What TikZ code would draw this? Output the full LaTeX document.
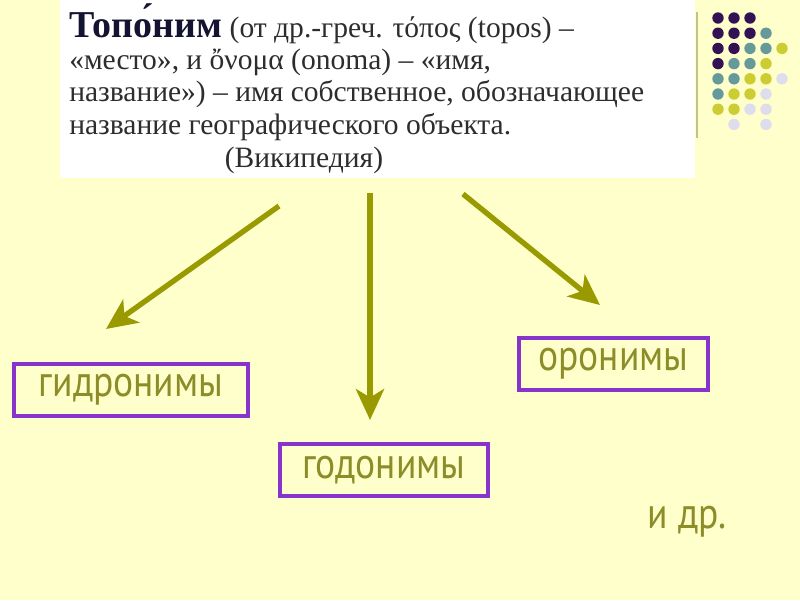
\documentclass[tikz,border=0pt]{standalone}
\usepackage{fontspec}
\setmainfont{Liberation Serif}
\setsansfont{PT Sans}
\newfontfamily\kindfont[FakeStretch=0.86]{PT Sans}
\usetikzlibrary{arrows.meta,positioning}
\definecolor{bgyellow}{RGB}{255,255,204}
\definecolor{olivearrow}{RGB}{153,153,0}
\definecolor{olivetext}{RGB}{140,140,40}
\definecolor{boxpurple}{RGB}{136,51,204}
\definecolor{titleblue}{RGB}{20,20,50}
\definecolor{bodygray}{RGB}{45,45,45}
\definecolor{dotpurple}{RGB}{51,17,85}
\definecolor{dotteal}{RGB}{102,153,153}
\definecolor{dotyellow}{RGB}{204,204,51}
\definecolor{dotlav}{RGB}{221,221,238}

\begin{document}
\begin{tikzpicture}[x=0.025cm,y=-0.025cm,
  kindbox/.style={draw=boxpurple, line width=2.2pt, text=olivetext,
    font=\kindfont\fontsize{31}{34}\selectfont, minimum height=1.3cm, inner sep=0pt},
  link/.style={olivearrow, line width=3.8pt, -{Stealth[length=22pt,width=20pt,inset=6pt]}}]
% Background and text panel
\fill[bgyellow] (0,0) rectangle (800,600);
\fill[white] (60,0) rectangle (695,178);
\draw[black!35!olive!40, line width=1.4pt] (697,12) -- (697,138);
% Dot pattern
\foreach \r/\c/\col in {1/1/dotpurple,1/2/dotpurple,1/3/dotpurple,
  2/1/dotpurple,2/2/dotpurple,2/3/dotpurple,2/4/dotteal,
  3/1/dotpurple,3/2/dotpurple,3/3/dotteal,3/4/dotteal,3/5/dotyellow,
  4/1/dotpurple,4/2/dotteal,4/3/dotteal,4/4/dotyellow,
  5/1/dotteal,5/2/dotteal,5/3/dotyellow,5/4/dotyellow,5/5/dotlav,
  6/1/dotteal,6/2/dotyellow,6/3/dotyellow,6/4/dotlav,
  7/1/dotyellow,7/2/dotyellow,7/3/dotlav,7/4/dotlav,
  8/2/dotlav,8/4/dotlav} {
  \fill[\col] (702+16*\c, 2.8+15.2*\r) circle[radius=5.7];
}
% Definition
\node[anchor=north west, align=left, inner sep=0pt, text=bodygray,
  font=\fontsize{21}{23}\selectfont] (def) at (69,3)
  {{\bfseries\color{titleblue}\fontsize{27}{23}\selectfont Топо́ним} (от др.-греч. τόπος (topos) –\\
   «место», и ὄνομα (onoma) – «имя,\\
   название») – имя собственное, обозначающее\\
   название географического объекта.};
\node[anchor=base, inner sep=0pt, text=bodygray,
  font=\fontsize{21}{23}\selectfont] (src) at (304,167) {(Википедия)};
% Kinds
\node[kindbox, minimum width=5.85cm] (hydro) at (131,390) {гидронимы};
\node[kindbox, minimum width=4.725cm] (oro) at (613.5,364) {оронимы};
\node[kindbox, minimum width=5.2cm] (godo) at (384,470) {годонимы};
\node[text=olivetext, font=\kindfont\fontsize{31}{34}\selectfont] (etc) at (687,522) {и др.};
% Arrows
\coordinate (s1) at (279,206);
\coordinate (e1) at (106,329);
\coordinate (s2) at (370,193);
\coordinate (e2) at (370,420);
\coordinate (s3) at (463,194);
\coordinate (e3) at (600,305);
\draw[link] (s1) -- (e1);
\draw[link] (s2) -- (e2);
\draw[link] (s3) -- (e3);
\end{tikzpicture}
\end{document}
